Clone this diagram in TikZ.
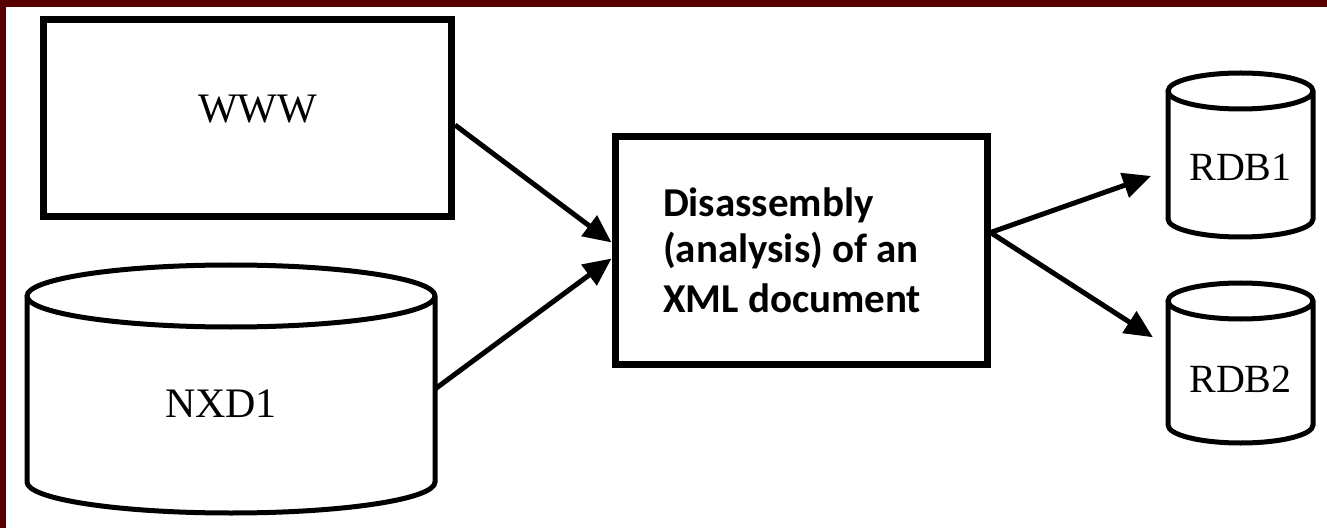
\documentclass[tikz,border=0pt]{standalone}
\usepackage{fontspec}
\setmainfont{Liberation Serif}
\newfontfamily\boxfont{Carlito}
\usepackage{tikz}
\usetikzlibrary{arrows.meta,positioning}
\definecolor{frame}{RGB}{88,0,0}
\tikzset{
 src/.style={draw,line width=7pt,minimum width=408pt,minimum height=197pt,inner sep=0pt,font=\fontsize{42}{48}\selectfont},
 proc/.style={draw,line width=7pt,minimum width=372pt,minimum height=227pt,text width=276pt,align=flush left,
   font=\boxfont\bfseries\fontsize{41}{50}\selectfont},
 db/.style={inner sep=0pt,outer sep=0pt,font=\fontsize{40}{48}\selectfont},
 dbline/.style={line width=5pt},
 flow/.style={-{Triangle[length=28pt,width=25pt]},line width=5pt}
}
% cylinder outline round a named body node: name, x radius, y radius
\newcommand{\dbshape}[3]{%
 \draw[dbline] (#1.north west) -- (#1.south west)
  arc[start angle=180,end angle=360,x radius=#2pt,y radius=#3pt] -- (#1.north east)
  arc[start angle=0,end angle=360,x radius=#2pt,y radius=#3pt];}
% label moved off the node centre (text sits low in the drums)
\newcommand{\lbl}[2]{\raisebox{#1}[0pt][0pt]{#2}}
\begin{document}
\begin{tikzpicture}[x=1pt,y=1pt]
\useasboundingbox (0,0) rectangle (1327,528);
\fill[white] (0,0) rectangle (1327,528);
\fill[frame] (0,521) rectangle (1327,528);
\fill[frame] (0,0) rectangle (6,528);
\node[src] (www) at (247.5,410) {\lbl{-5pt}{\hspace{20pt}WWW}};
\node[proc] (dis) at (801,277.5) {\raisebox{-4pt}{Disassembly}\\(analysis) of an\\XML document};
\node[db,font=\fontsize{42}{48}\selectfont,minimum width=408pt,minimum height=186pt] (nxd) at (231,139)
 {\lbl{-28pt}{\hspace{-20pt}NXD1}};
\node[db,minimum width=145pt,minimum height=128pt] (rdb1) at (1240.5,373) {\lbl{-26pt}{RDB1}};
\node[db,minimum width=145pt,minimum height=124pt] (rdb2) at (1240.5,165) {\lbl{-29pt}{RDB2}};
\dbshape{nxd}{204}{31}
\dbshape{rdb1}{72.5}{18}
\dbshape{rdb2}{72.5}{18}
\draw[flow] ([yshift=-7pt]www.east) -- ([yshift=8pt]dis.west);
\draw[flow] (nxd.east) -- ([yshift=-8pt]dis.west);
\draw[flow,shorten >=18pt] ([yshift=18pt]dis.east) -- ([yshift=-15pt]rdb1.west);
\draw[flow,shorten >=18pt] ([yshift=18pt]dis.east) -- ([yshift=16pt]rdb2.west);
\end{tikzpicture}
\end{document}
